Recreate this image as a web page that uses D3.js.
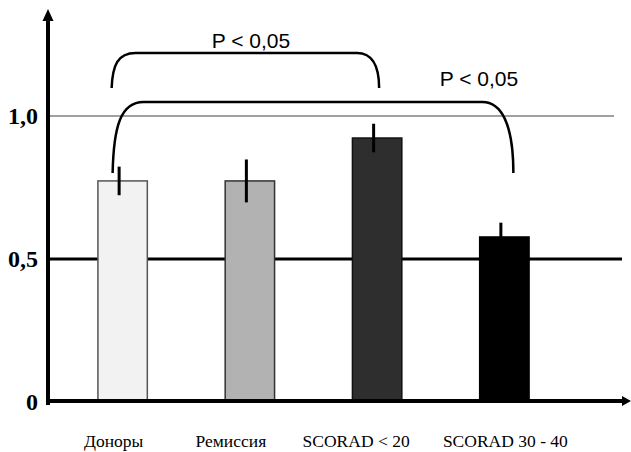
<!DOCTYPE html>
<html>
<head>
<meta charset="utf-8">
<script src="https://cdn.jsdelivr.net/npm/d3@7"></script>
<style>
  html, body { margin: 0; padding: 0; background: #fff; }
  svg { display: block; }
</style>
</head>
<body>
<svg id="chart" width="631" height="452"></svg>
<script>
// Group names and mean values with their error half-widths
const categories = ["Доноры", "Ремиссия", "SCORAD < 20", "SCORAD 30 - 40"];
const values = [0.773, 0.773, 0.923, 0.577];
const errors = [0.05, 0.075, 0.05, 0.05];
const barFills = ["#f2f2f2", "#b2b2b2", "#2e2e2e", "#000000"];
const barStrokes = ["#555555", "#333333", "#111111", "#000000"];

// Y ticks and their printed labels
const tickValues = [0, 0.5, 1.0];
const tickLabels = ["0", "0,5", "1,0"];

// Significance brackets between groups
const comparisons = [
  { from: "Доноры", to: "SCORAD < 20", label: "P < 0,05" },
  { from: "Доноры", to: "SCORAD 30 - 40", label: "P < 0,05" }
];

const svg = d3.select("#chart");

const x0 = 48, yZero = 402;
const y = d3.scaleLinear().domain([0, 1]).range([yZero, yZero - 286]);
const x = d3.scaleBand()
  .domain(categories)
  .range([59, 568])
  .paddingInner(0.6)
  .paddingOuter(0.3);

// Reference lines at 0.5 (heavy black) and 1.0 (thin grey)
svg.append("line")
  .attr("x1", x0).attr("x2", 614)
  .attr("y1", y(1)).attr("y2", y(1))
  .attr("stroke", "#808080").attr("stroke-width", 1.6);
svg.append("line")
  .attr("x1", x0).attr("x2", 622)
  .attr("y1", y(0.5)).attr("y2", y(0.5))
  .attr("stroke", "#000").attr("stroke-width", 3);

// Bars
const idx = d3.range(categories.length);
svg.append("g").selectAll("rect")
  .data(idx)
  .join("rect")
  .attr("x", i => x(categories[i]) + 0.75)
  .attr("width", x.bandwidth() - 1.5)
  .attr("y", i => y(values[i]))
  .attr("height", i => yZero - y(values[i]))
  .attr("fill", i => barFills[i])
  .attr("stroke", i => barStrokes[i])
  .attr("stroke-width", 1.5);

// Error bars (no caps)
svg.append("g").selectAll("line")
  .data(idx)
  .join("line")
  .attr("x1", i => x(categories[i]) + x.bandwidth() / 2 - 3.5)
  .attr("x2", i => x(categories[i]) + x.bandwidth() / 2 - 3.5)
  .attr("y1", i => y(values[i] + errors[i]))
  .attr("y2", i => y(values[i] - errors[i]))
  .attr("stroke", "#000").attr("stroke-width", 3);

// Axes with arrowheads
svg.append("line")
  .attr("x1", x0).attr("x2", x0)
  .attr("y1", 18).attr("y2", yZero + 3)
  .attr("stroke", "#000").attr("stroke-width", 4);
svg.append("path")
  .attr("d", `M${x0},9 L${x0 + 5.5},21 L${x0 - 5.5},21 Z`)
  .attr("fill", "#000");
svg.append("line")
  .attr("x1", x0 - 2).attr("x2", 624)
  .attr("y1", yZero - 1).attr("y2", yZero - 1)
  .attr("stroke", "#000").attr("stroke-width", 4);
svg.append("path")
  .attr("d", `M631,${yZero - 1} L622,${yZero - 6} L622,${yZero + 4} Z`)
  .attr("fill", "#000");

// Y tick labels
svg.append("g").selectAll("text")
  .data(tickValues)
  .join("text")
  .attr("x", 38)
  .attr("y", d => y(d) + 8)
  .attr("text-anchor", "end")
  .attr("font-family", "'Liberation Serif', 'Times New Roman', serif")
  .attr("font-weight", "bold")
  .attr("font-size", 24)
  .text((d, i) => tickLabels[i]);

// Category labels under the axis
const labelShift = [-9, -19, -21, 1];
svg.append("g").selectAll("text")
  .data(idx)
  .join("text")
  .attr("x", i => x(categories[i]) + x.bandwidth() / 2 + labelShift[i])
  .attr("y", 447)
  .attr("text-anchor", "middle")
  .attr("font-family", "'Liberation Serif', 'Times New Roman', serif")
  .attr("font-size", 17.5)
  .attr("fill", "#000")
  .text(i => categories[i]);

// Significance brackets
const bracketGeom = [
  { top: 53, bottom: 88, rl: 24, rr: 22, dxl: -11, dxr: 2, tx: 251, ty: 48 },
  { top: 102, bottom: 173, rl: 31, rr: 31, dxl: -10, dxr: 9, tx: 479, ty: 86 }
];
comparisons.forEach((c, k) => {
  const g = bracketGeom[k];
  const xl = x(c.from) + x.bandwidth() / 2 + g.dxl;
  const xr = x(c.to) + x.bandwidth() / 2 + g.dxr;
  const p = d3.path();
  p.moveTo(xl, g.bottom);
  p.bezierCurveTo(xl + 1, g.top + (g.bottom - g.top) * 0.35, xl + g.rl * 0.25, g.top, xl + g.rl, g.top);
  p.lineTo(xr - g.rr, g.top);
  p.bezierCurveTo(xr - g.rr * 0.4, g.top, xr, g.top + (g.bottom - g.top) * 0.3, xr, g.bottom);
  svg.append("path")
    .attr("d", p.toString())
    .attr("fill", "none")
    .attr("stroke", "#000")
    .attr("stroke-width", 2.5);
  svg.append("text")
    .attr("x", g.tx).attr("y", g.ty)
    .attr("text-anchor", "middle")
    .attr("font-family", "'Liberation Sans', Arial, sans-serif")
    .attr("font-size", 21)
    .text(c.label);
});
</script>
</body>
</html>
